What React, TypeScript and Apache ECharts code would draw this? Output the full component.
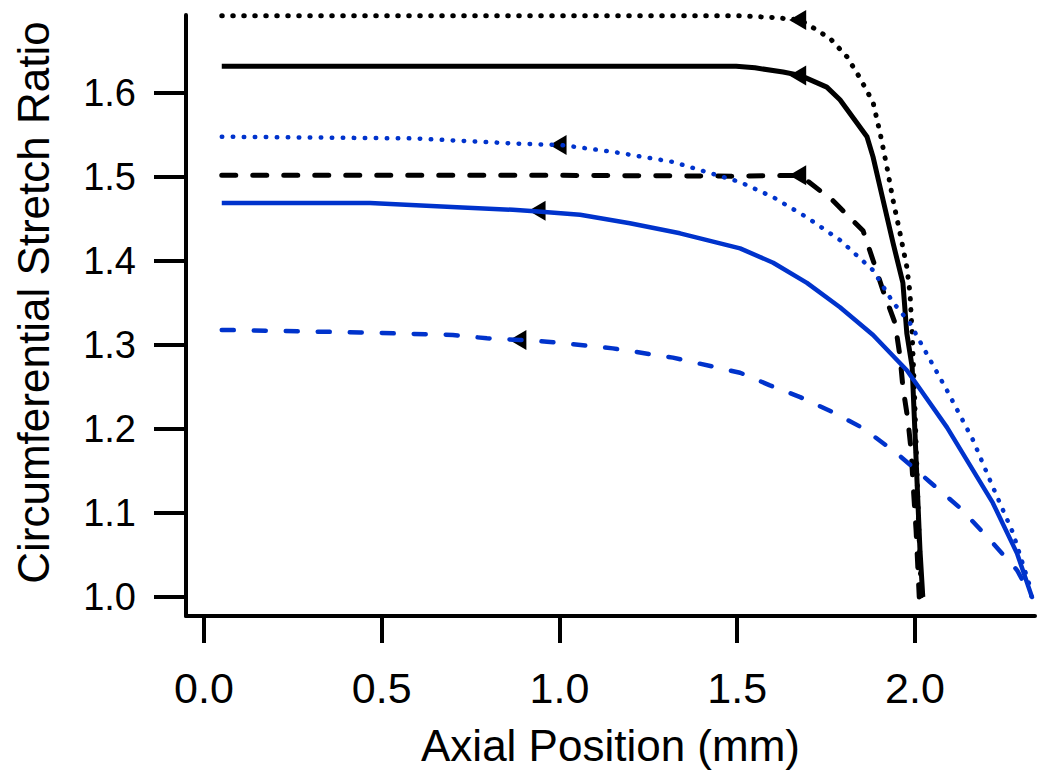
import React, { useEffect, useRef } from "react";
import * as echarts from "echarts";

const xTicks = [0, 0.5, 1.0, 1.5, 2.0];
const yTicks = [1.0, 1.1, 1.2, 1.3, 1.4, 1.5, 1.6];

const blackDotted = [
  [0.05, 1.692], [0.5, 1.692], [1.0, 1.692], [1.5, 1.692], [1.6, 1.69], [1.677, 1.687],
  [1.724, 1.675], [1.761, 1.665], [1.809, 1.643], [1.845, 1.618], [1.882, 1.589],
  [1.902, 1.552], [1.921, 1.512], [1.938, 1.473], [1.958, 1.433], [1.977, 1.393],
  [1.986, 1.362], [1.992, 1.314], [1.998, 1.25], [2.004, 1.17], [2.01, 1.09], [2.018, 1.0],
];
const blackSolid = [
  [0.05, 1.632], [1.0, 1.632], [1.497, 1.632], [1.55, 1.63], [1.629, 1.625], [1.677, 1.621],
  [1.752, 1.607], [1.789, 1.592], [1.865, 1.548], [1.882, 1.524], [1.91, 1.473],
  [1.938, 1.422], [1.966, 1.374], [1.977, 1.314], [1.992, 1.274], [2.0, 1.195],
  [2.008, 1.115], [2.014, 1.056], [2.022, 1.0],
];
const blackDashed = [
  [0.05, 1.502], [1.0, 1.502], [1.5, 1.501], [1.677, 1.502], [1.769, 1.472], [1.854, 1.436],
  [1.882, 1.401], [1.91, 1.365], [1.944, 1.326], [1.958, 1.286], [1.966, 1.25],
  [1.98, 1.211], [1.989, 1.175], [1.994, 1.139], [2.003, 1.08], [2.012, 1.0],
];
const blueDotted = [
  [0.05, 1.548], [0.588, 1.546], [0.869, 1.54], [1.007, 1.538], [1.15, 1.53], [1.319, 1.518],
  [1.508, 1.494], [1.601, 1.476], [1.696, 1.452], [1.789, 1.425], [1.882, 1.389],
  [1.938, 1.351], [1.986, 1.326], [2.022, 1.298], [2.09, 1.246], [2.163, 1.187],
  [2.219, 1.131], [2.276, 1.076], [2.329, 1.005],
];
const blueSolid = [
  [0.05, 1.469], [0.467, 1.469], [0.712, 1.464], [0.869, 1.461], [0.94, 1.459], [1.058, 1.455],
  [1.198, 1.445], [1.339, 1.433], [1.508, 1.415], [1.601, 1.398], [1.696, 1.374],
  [1.789, 1.345], [1.882, 1.312], [1.977, 1.27], [2.09, 1.202], [2.163, 1.151],
  [2.219, 1.112], [2.287, 1.052], [2.329, 1.0],
];
const blueDashed = [
  [0.05, 1.318], [0.439, 1.315], [0.7, 1.312], [0.796, 1.308], [0.889, 1.306], [0.965, 1.304],
  [1.15, 1.296], [1.319, 1.285], [1.508, 1.267], [1.592, 1.252], [1.677, 1.238],
  [1.769, 1.22], [1.854, 1.201], [1.949, 1.171], [2.042, 1.137], [2.127, 1.106],
  [2.211, 1.068], [2.287, 1.032], [2.329, 1.0],
];
const arrowMarkers = [
  [1.67, 1.687], [1.67, 1.621], [1.67, 1.502], [0.996, 1.538], [0.937, 1.46], [0.883, 1.306],
];

const BLUE = "#0033cc";
const FONT = "'Liberation Sans', Arial, sans-serif";

export default function App() {
  const ref = useRef<HTMLDivElement>(null);
  useEffect(() => {
    if (!ref.current) return;
    const chart = echarts.init(ref.current, null, { renderer: "svg" });
    const line = (name: string, data: number[][], color: string, width: number, dash: any) => ({
      name,
      type: "line",
      data,
      showSymbol: false,
      symbol: "none",
      z: 3,
      lineStyle: { color, width, type: dash, cap: dash === "solid" ? "butt" : "round", join: "round" },
    });
    chart.setOption({
      animation: false,
      backgroundColor: "#ffffff",
      grid: { left: 186, right: 15, top: 15, bottom: 162, containLabel: false },
      xAxis: {
        type: "value",
        min: -0.0506,
        max: 2.3376,
        name: "Axial Position (mm)",
        nameLocation: "middle",
        nameGap: 107,
        nameTextStyle: { fontFamily: FONT, fontSize: 44, color: "#000" },
        axisLine: { onZero: false, lineStyle: { color: "#000", width: 4 } },
        axisTick: { show: true, inside: false, length: 27, customValues: xTicks, lineStyle: { color: "#000", width: 4 } },
        axisLabel: {
          customValues: xTicks,
          formatter: (v: number) => v.toFixed(1),
          fontFamily: FONT,
          fontSize: 43,
          color: "#000",
          margin: 50,
        },
        splitLine: { show: false },
      },
      yAxis: {
        type: "value",
        min: 0.9774,
        max: 1.6929,
        name: "Circumferential Stretch Ratio",
        nameLocation: "middle",
        nameGap: 131,
        nameTextStyle: { fontFamily: FONT, fontSize: 44, color: "#000", padding: [0, 0, 0, 26] },
        axisLine: { onZero: false, lineStyle: { color: "#000", width: 4 } },
        axisTick: { show: true, inside: false, length: 32, customValues: yTicks, lineStyle: { color: "#000", width: 4 } },
        axisLabel: {
          customValues: yTicks,
          formatter: (v: number) => v.toFixed(1),
          fontFamily: FONT,
          fontSize: 38,
          color: "#000",
          margin: 50,
        },
        splitLine: { show: false },
      },
      series: [
        {
          name: "markers",
          type: "scatter",
          data: arrowMarkers,
          symbol: "triangle",
          symbolSize: [20, 17],
          symbolRotate: 90,
          itemStyle: { color: "#000", opacity: 1 },
          z: 2,
        },
        line("black dotted", blackDotted, "#000", 5, [0.5, 10.5]),
        line("black solid", blackSolid, "#000", 5, "solid"),
        line("black dashed", blackDashed, "#000", 5, [14, 17]),
        line("blue dotted", blueDotted, BLUE, 4.5, [0.5, 10.5]),
        line("blue solid", blueSolid, BLUE, 4.5, "solid"),
        line("blue dashed", blueDashed, BLUE, 4.5, [12, 20]),
      ],
    });
    return () => chart.dispose();
  }, []);
  return (
    <div
      ref={ref}
      style={{ position: "fixed", left: 0, top: 0, width: 1050, height: 778, background: "#fff" }}
    />
  );
}
